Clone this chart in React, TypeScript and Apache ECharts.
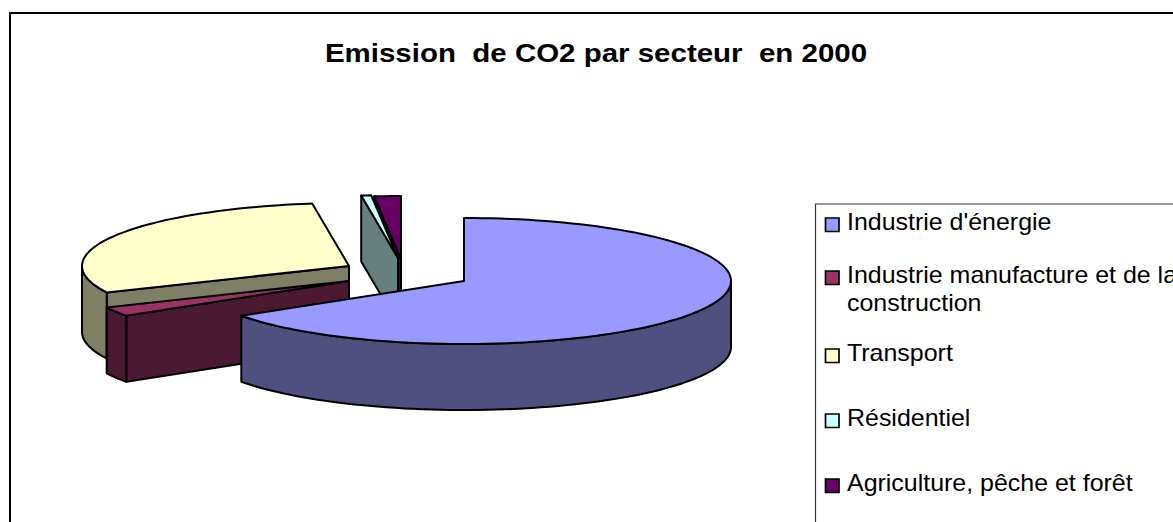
import React, { useEffect, useRef } from "react";
import * as echarts from "echarts";

const titleText = "Emission  de CO2 par secteur  en 2000";
const categories = [
  "Industrie d'énergie",
  "Industrie manufacture et de la\nconstruction",
  "Transport",
  "Résidentiel",
  "Agriculture, pêche et forêt",
];
const values = [65.7, 2.4, 29.7, 0.6, 1.6];
const topColors = ["#9999FF", "#993366", "#FFFFCC", "#CCFFFF", "#660066"];
const wallColors = ["#4F4F80", "#4C1933", "#7F7F66", "#667F7F", "#330033"];
const apexX = [464, 349, 349, 398, 401];
const apexY = [281, 281, 266, 258, 259];
const paintRank = [4, 3, 2, 1, 0];
const legendCenterY = [222, 289, 353, 418, 483];

const RX = 267;
const RY = 63;
const DEPTH = 66;
const STROKE = 2;

function rim(cx: number, cy: number, deg: number): number[] {
  const t = (deg * Math.PI) / 180;
  return [cx + RX * Math.sin(t), cy - RY * Math.cos(t)];
}

function arcPoints(cx: number, cy: number, from: number, to: number): number[][] {
  const pts: number[][] = [];
  const n = Math.max(2, Math.ceil((to - from) / 2));
  for (let i = 0; i <= n; i++) pts.push(rim(cx, cy, from + ((to - from) * i) / n));
  return pts;
}

const total = values.reduce((a, b) => a + b, 0);

function renderSlice(params: any, api: any) {
  const i = params.dataIndex;
  let before = 0;
  for (let k = 0; k < i; k++) before += values[k];
  const value = api.value(0);
  const start = (before / total) * 360;
  const end = start + (value / total) * 360;
  const cx = apexX[i];
  const cy = apexY[i];
  const children: any[] = [];
  const rank = paintRank[i] * 10;
  const poly = (points: number[][], fill: string, extra = 0) =>
    children.push({
      type: "polygon",
      z2: rank + extra,
      shape: { points },
      style: { fill, stroke: "#000", lineWidth: STROKE, lineJoin: "round" },
    });

  if (Math.sin((start * Math.PI) / 180) < -1e-6) {
    const p = rim(cx, cy, start);
    poly(
      [
        [cx, cy],
        p,
        [p[0], p[1] + DEPTH],
        [cx, cy + DEPTH],
      ],
      wallColors[i],
      0
    );
  }
  const a = Math.max(start, 90);
  const b = Math.min(end, 270);
  if (b > a) {
    const arc = arcPoints(cx, cy, a, b);
    const low = arc.map((p) => [p[0], p[1] + DEPTH]).reverse();
    poly([...arc, ...low], wallColors[i], 1);
  }
  poly([[cx, cy], ...arcPoints(cx, cy, start, end)], topColors[i], 2);
  return { type: "group", children };
}

function legendGraphics() {
  const out: any[] = [];
  out.push({
    type: "polyline",
    shape: { points: [[815.5, 522], [815.5, 204], [1173, 204]] },
    style: { fill: "none", stroke: "#333", lineWidth: 1.2 },
  });
  categories.forEach((name, i) => {
    const lines = name.split("\n");
    const y = legendCenterY[i];
    const firstY = lines.length > 1 ? y - 14 : y;
    out.push({
      type: "rect",
      shape: { x: 825.5, y: firstY - 4, width: 13.5, height: 13.5 },
      style: { fill: topColors[i], stroke: "#000", lineWidth: 1.7 },
    });
    lines.forEach((ln, k) => {
      out.push({
        type: "text",
        x: 847,
        y: firstY + k * 28,
        scaleX: 1.04,
        style: {
          text: ln,
          fill: "#000",
          font: '24px "Liberation Sans", Arial, sans-serif',
          verticalAlign: "middle",
        },
      });
    });
  });
  return out;
}

export default function App() {
  const ref = useRef<HTMLDivElement>(null);
  useEffect(() => {
    const chart = echarts.init(ref.current!, undefined, { renderer: "svg" });
    chart.setOption({
      animation: false,
      backgroundColor: "#fff",
      graphic: [
        {
          type: "polyline",
          shape: { points: [[10, 522], [10, 13], [1173, 13]] },
          style: { fill: "none", stroke: "#000", lineWidth: 2 },
        },
        {
          type: "text",
          x: 596,
          y: 53,
          scaleX: 1.134,
          style: {
            text: titleText,
            fill: "#000",
            align: "center",
            verticalAlign: "middle",
            font: 'bold 26px "Liberation Sans", Arial, sans-serif',
          },
        },
        ...legendGraphics(),
      ],
      series: [
        {
          type: "custom",
          coordinateSystem: "none",
          renderItem: renderSlice,
          data: values.map((v, i) => ({ value: [v], name: categories[i] })),
          clip: false,
        },
      ],
    });
    return () => chart.dispose();
  }, []);
  return (
    <div
      ref={ref}
      style={{ position: "fixed", left: 0, top: 0, width: 1173, height: 522, overflow: "hidden" }}
    />
  );
}
